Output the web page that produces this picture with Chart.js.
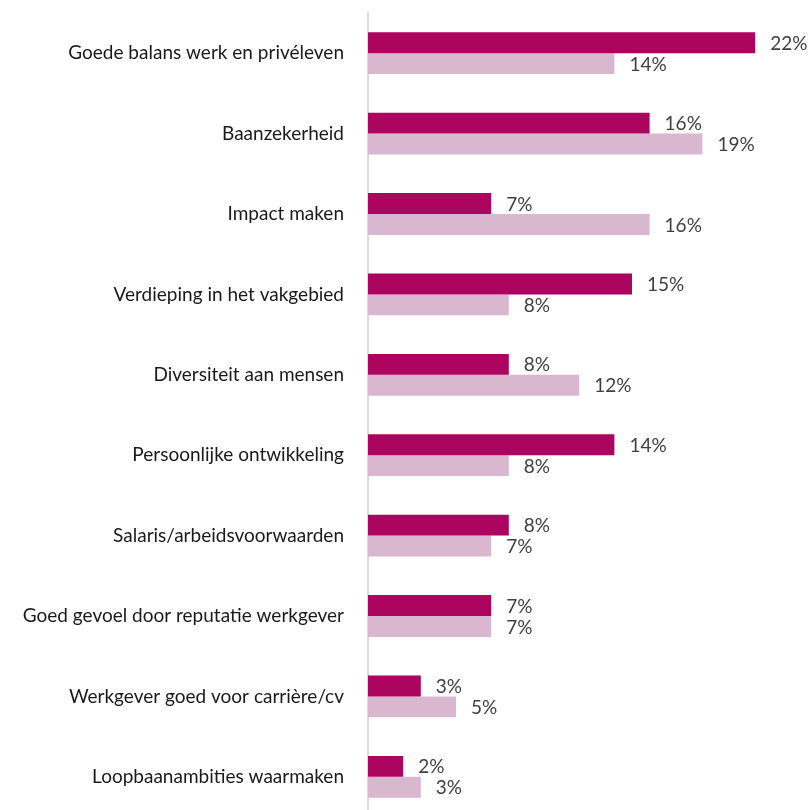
<!DOCTYPE html>
<html>
<head>
<meta charset="utf-8">
<script src="https://cdn.jsdelivr.net/npm/chart.js@4"></script>
<style>
  html, body { margin: 0; padding: 0; background: #fff; overflow: hidden; }
</style>
</head>
<body>
<canvas id="motieven" width="811" height="830"></canvas>
<script>
var categories = [
  "Goede balans werk en privéleven",
  "Baanzekerheid",
  "Impact maken",
  "Verdieping in het vakgebied",
  "Diversiteit aan mensen",
  "Persoonlijke ontwikkeling",
  "Salaris/arbeidsvoorwaarden",
  "Goed gevoel door reputatie werkgever",
  "Werkgever goed voor carrière/cv",
  "Loopbaanambities waarmaken"
];
var serieA = [22, 16, 7, 15, 8, 14, 8, 7, 3, 2];
var serieB = [14, 19, 16, 8, 12, 8, 7, 7, 5, 3];

var fontFamily = "Lato, 'Open Sans', sans-serif";

// percentages next to each bar
var valueLabels = {
  id: "valueLabels",
  afterDatasetsDraw: function(chart) {
    var ctx = chart.ctx;
    ctx.save();
    ctx.font = "19px " + fontFamily;
    ctx.fillStyle = "#404040";
    ctx.textAlign = "left";
    ctx.textBaseline = "middle";
    chart.data.datasets.forEach(function(ds, i) {
      chart.getDatasetMeta(i).data.forEach(function(bar, j) {
        ctx.fillText(ds.data[j] + "%", bar.x + 15, bar.y + 1);
      });
    });
    ctx.restore();
  }
};

var barChartData = {
  labels: categories,
  datasets: [
    {
      label: "A",
      backgroundColor: "#ab0560",
      data: serieA
    },
    {
      label: "B",
      backgroundColor: "#d9b7ce",
      data: serieB
    }
  ]
};

var chartOptions = {
  indexAxis: "y",
  responsive: false,
  animation: false,
  layout: { padding: { top: 13, right: 3, bottom: 13, left: 0 } },
  plugins: {
    legend: { display: false },
    tooltip: { enabled: false }
  },
  datasets: {
    bar: { categoryPercentage: 0.52, barPercentage: 1 }
  },
  scales: {
    x: {
      display: false,
      min: 0,
      max: 25
    },
    y: {
      grid: { display: false },
      border: { display: true, color: "#d9d9d9", width: 2 },
      ticks: {
        color: "#1a1a1a",
        padding: 16,
        font: { family: fontFamily, size: 19 }
      },
      afterFit: function(scale) {
        scale.width = 368;
        scale.paddingTop = 0;
        scale.paddingBottom = 0;
      }
    }
  }
};

var ctx = document.getElementById("motieven").getContext("2d");
window.myBar = new Chart(ctx, {
  type: "bar",
  data: barChartData,
  options: chartOptions,
  plugins: [valueLabels]
});
</script>
</body>
</html>
